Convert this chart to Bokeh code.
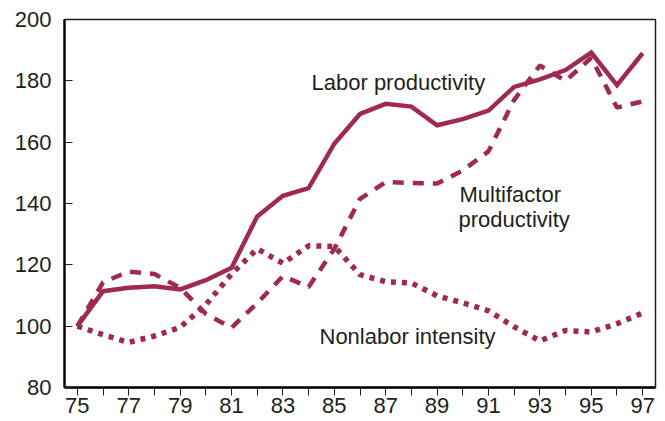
from bokeh.plotting import figure
from bokeh.models import Range1d, FixedTicker, Label
from bokeh.embed import file_html
from bokeh.resources import INLINE

years = list(range(1975, 1998))
year_short = [y - 1900 for y in years]
labor_productivity = [100, 111.4, 112.5, 113, 112, 115, 119, 135.8, 142.5, 145, 159.5,
                      169.2, 172.5, 171.6, 165.5, 167.5, 170.3, 178, 180.5, 183.5, 189.2,
                      178.6, 189]
multifactor_productivity = [100, 114.3, 117.8, 117, 112.5, 104, 99.5, 107.5, 116.3, 112.8, 125.2,
                            141.5, 147, 146.7, 146.5, 150.8, 157, 173.8, 185, 180, 187.5,
                            171.3, 173.3]
nonlabor_intensity = [100, 97.2, 94.7, 96.8, 99.6, 107, 117, 125.2, 120.5, 126.2, 126,
                      116.8, 114.5, 114.1, 109.9, 107.6, 105, 99.8, 95.2, 98.6, 98.1,
                      100.8, 104.3]
y_ticks = [80, 100, 120, 140, 160, 180, 200]
x_label_years = [75, 77, 79, 81, 83, 85, 87, 89, 91, 93, 95, 97]

COLOR = "#a02a4f"
TEXT = "#231f20"
FONT = "Liberation Sans"

p = figure(width=665, height=421, output_backend="svg", toolbar_location=None,
           x_range=Range1d(74.5, 97.5), y_range=Range1d(80, 200),
           min_border_left=64, min_border_top=19, min_border_right=10, min_border_bottom=34)
p.background_fill_color = "white"
p.border_fill_color = "white"
p.grid.visible = False
p.outline_line_color = TEXT
p.outline_line_width = 1.5

p.line(year_short, labor_productivity, line_color=COLOR, line_width=4.5, line_join="miter")
p.line(year_short, multifactor_productivity, line_color=COLOR, line_width=4.5,
       line_dash="11 9", line_cap="butt")
p.line(year_short, nonlabor_intensity, line_color=COLOR, line_width=5.5,
       line_dash="5 6", line_cap="butt")

# y axis
ya = p.yaxis[0]
ya.ticker = FixedTicker(ticks=y_ticks)
ya.minor_tick_line_color = None
ya.major_tick_in = 8
ya.major_tick_out = 0
ya.major_tick_line_color = TEXT
ya.major_tick_line_width = 1
ya.axis_line_color = "black"
ya.axis_line_width = 2.3
ya.major_label_text_font = FONT
ya.major_label_text_font_size = "22px"
ya.major_label_text_color = TEXT
ya.major_label_standoff = 13

# x axis: tick every year, label every other year
xa = p.xaxis[0]
xa.ticker = FixedTicker(ticks=year_short)
xa.minor_tick_line_color = None
xa.major_tick_in = 0
xa.major_tick_out = 8
xa.major_tick_line_color = TEXT
xa.major_tick_line_width = 1
xa.axis_line_color = "black"
xa.axis_line_width = 2.3
xa.major_label_overrides = {v: (str(v) if v in x_label_years else "") for v in year_short}
xa.major_label_text_font = FONT
xa.major_label_text_font_size = "22px"
xa.major_label_text_color = TEXT
xa.major_label_standoff = 2

def note(txt, x, y):
    p.add_layout(Label(x=x, y=y, x_units="screen", y_units="screen", text=txt,
                       text_font=FONT, text_font_size="22px", text_color=TEXT,
                       text_baseline="alphabetic", text_align="left"))

note("Labor productivity", 311 - 64, 387 - 82)
note("Multifactor", 459 - 64, 387 - 193.5)
note("productivity", 458 - 64, 387 - 219)
note("Nonlabor intensity", 319 - 64, 387 - 336)

open("out.html", "w").write(file_html(p, INLINE))
